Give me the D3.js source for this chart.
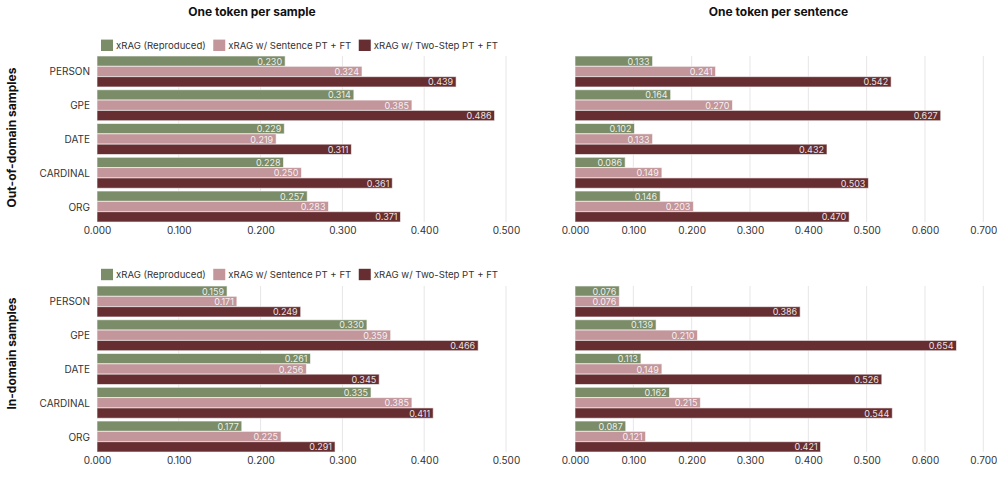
<!DOCTYPE html>
<html><head><meta charset="utf-8">
<script src="https://cdn.jsdelivr.net/npm/d3@7"></script>
<style>body{margin:0;background:#fff;} svg{display:block;font-family:Inter,Roboto,sans-serif;}</style>
</head><body><svg id="c" width="997" height="494"></svg>
<script>
const categories = ["PERSON","GPE","DATE","CARDINAL","ORG"];
const seriesNames = ["xRAG (Reproduced)","xRAG w/ Sentence PT + FT","xRAG w/ Two-Step PT + FT"];
const colors = ["#7b8c69","#c2969b","#672e31"];
const colTitles = ["One token per sample","One token per sentence"];
const rowTitles = ["Out-of-domain samples","In-domain samples"];
const xTicksSample = [0,0.1,0.2,0.3,0.4,0.5];
const xTicksSentence = [0,0.1,0.2,0.3,0.4,0.5,0.6,0.7];

// Out-of-domain, one token per sample
const outSampleRepro = [0.230,0.314,0.229,0.228,0.257];
const outSampleSent  = [0.324,0.385,0.219,0.250,0.283];
const outSampleTwo   = [0.439,0.486,0.311,0.361,0.371];
// Out-of-domain, one token per sentence
const outSentRepro = [0.133,0.164,0.102,0.086,0.146];
const outSentSent  = [0.241,0.270,0.133,0.149,0.203];
const outSentTwo   = [0.542,0.627,0.432,0.503,0.470];
// In-domain, one token per sample
const inSampleRepro = [0.159,0.330,0.261,0.335,0.177];
const inSampleSent  = [0.171,0.359,0.256,0.385,0.225];
const inSampleTwo   = [0.249,0.466,0.345,0.411,0.291];
// In-domain, one token per sentence
const inSentRepro = [0.076,0.139,0.113,0.162,0.087];
const inSentSent  = [0.076,0.210,0.149,0.215,0.121];
const inSentTwo   = [0.386,0.654,0.526,0.544,0.421];

const svg = d3.select("#c");

const panels = [
  {row:0,col:0,data:[outSampleRepro,outSampleSent,outSampleTwo],ticks:xTicksSample,max:0.5},
  {row:0,col:1,data:[outSentRepro,outSentSent,outSentTwo],ticks:xTicksSentence,max:0.7},
  {row:1,col:0,data:[inSampleRepro,inSampleSent,inSampleTwo],ticks:xTicksSample,max:0.5},
  {row:1,col:1,data:[inSentRepro,inSentSent,inSentTwo],ticks:xTicksSentence,max:0.7},
];
const colX = [[97,506],[575,983.3]];
const rowY = [[54.6,223.4],[284.6,453.4]];

panels.forEach(p=>{
  const x = d3.scaleLinear().domain([0,p.max]).range(colX[p.col]);
  const y = d3.scaleBand().domain(categories).range(rowY[p.row]).paddingInner(0.082).paddingOuter(0.041);
  const ys = d3.scaleBand().domain(d3.range(3)).range([0,y.bandwidth()]).padding(0);
  const g = svg.append("g");
  const top = y(categories[0]), bot = y(categories[categories.length-1])+y.bandwidth();
  g.selectAll("line.grid").data(p.ticks.filter(t=>t>0)).join("line")
    .attr("x1",d=>x(d)).attr("x2",d=>x(d)).attr("y1",top).attr("y2",bot)
    .attr("stroke","#e6e6e6").attr("stroke-width",1);
  const ax = g.append("g").attr("transform",`translate(0,${bot})`)
    .call(d3.axisBottom(x).tickValues(p.ticks).tickFormat(d3.format(".3f")).tickSize(0).tickPadding(5));
  ax.select(".domain").remove();
  ax.selectAll("text").attr("font-family","Inter,Roboto,sans-serif").attr("font-size",10).attr("fill","#333");
  if(p.col===0){
    g.selectAll("text.cat").data(categories).join("text")
      .attr("x",colX[0][0]-7).attr("y",d=>y(d)+y.bandwidth()/2)
      .attr("text-anchor","end").attr("dominant-baseline","central")
      .attr("font-size",10).attr("fill","#333").text(d=>d);
  }
  p.data.forEach((vals,si)=>{
    const gg = g.append("g");
    gg.selectAll("rect").data(vals).join("rect")
      .attr("x",x(0)).attr("y",(d,i)=>y(categories[i])+ys(si))
      .attr("width",d=>x(d)-x(0)).attr("height",ys.bandwidth())
      .attr("fill",colors[si]).attr("stroke","#fff").attr("stroke-opacity",0.6).attr("stroke-width",1);
    gg.selectAll("text").data(vals).join("text")
      .attr("x",d=>x(d)-3).attr("y",(d,i)=>y(categories[i])+ys(si)+ys.bandwidth()/2)
      .attr("text-anchor","end").attr("dominant-baseline","central")
      .attr("font-size",9).attr("fill","#fff").attr("fill-opacity",0.88)
      .text(d=>d3.format(".3f")(d));
  });
  if(p.col===0){
    const ly = [45.3,274.5][p.row];
    let lx = 101;
    seriesNames.forEach((s,si)=>{
      svg.append("rect").attr("x",lx).attr("y",ly-5.7).attr("width",12).attr("height",11.4).attr("fill",colors[si]);
      const t = svg.append("text").attr("x",lx+15).attr("y",ly).attr("dominant-baseline","central")
        .attr("font-size",9.6).attr("fill","#333").text(s);
      lx = lx + 15 + t.node().getComputedTextLength() + 7.5;
    });
  }
});
[[252,colTitles[0]],[778.5,colTitles[1]]].forEach(([cx,t])=>{
  svg.append("text").attr("x",cx).attr("y",11).attr("text-anchor","middle").attr("dominant-baseline","central")
    .attr("font-size",12).attr("font-weight","bold").attr("fill","#111").text(t);
});
[[137.5,rowTitles[0]],[353.5,rowTitles[1]]].forEach(([cy,t])=>{
  svg.append("text").attr("transform",`translate(11,${cy}) rotate(-90)`).attr("text-anchor","middle")
    .attr("dominant-baseline","central").attr("font-size",12).attr("font-weight","bold").attr("fill","#111").text(t);
});
</script></body></html>
